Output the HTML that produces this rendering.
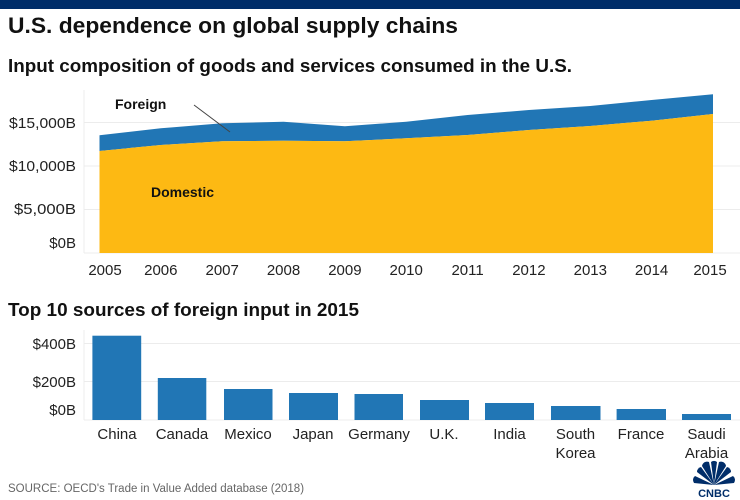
<!DOCTYPE html>
<html><head><meta charset="utf-8"><style>
html,body{margin:0;padding:0;background:#fff;}
svg{display:block;font-family:"Liberation Sans",sans-serif;}
</style></head><body>
<svg width="740" height="500" viewBox="0 0 740 500">
<rect x="0" y="0" width="740" height="9" fill="#002d69"/>
<text x="8" y="33" font-size="22" font-weight="bold" fill="#111" textLength="450" lengthAdjust="spacingAndGlyphs">U.S. dependence on global supply chains</text>
<text x="8" y="72" font-size="18" font-weight="bold" fill="#111" textLength="564" lengthAdjust="spacingAndGlyphs">Input composition of goods and services consumed in the U.S.</text>
<g stroke="#ececec" stroke-width="1">
<line x1="84" y1="122.5" x2="740" y2="122.5"/>
<line x1="84" y1="166" x2="740" y2="166"/>
<line x1="84" y1="209.5" x2="740" y2="209.5"/>
<line x1="84" y1="253" x2="740" y2="253"/>
<line x1="84" y1="90" x2="84" y2="253"/>
</g>
<g font-size="15" fill="#222" text-anchor="end">
<text x="76" y="128" textLength="67" lengthAdjust="spacingAndGlyphs">$15,000B</text>
<text x="76" y="171" textLength="67" lengthAdjust="spacingAndGlyphs">$10,000B</text>
<text x="76" y="214" textLength="62" lengthAdjust="spacingAndGlyphs">$5,000B</text>
<text x="76" y="248">$0B</text>
</g>
<polygon fill="#2176b5" points="99.5,135.3 160.8,128.3 222.2,123.3 283.5,121.7 344.9,126.3 406.2,121.7 467.6,115 528.9,110 590.3,106 651.6,100 713,94.3 713,114 651.6,120.7 590.3,126 528.9,130 467.6,135 406.2,138.3 344.9,141.3 283.5,140.7 222.2,141.3 160.8,145 99.5,151"/>
<polygon fill="#fdb913" points="99.5,151 160.8,145 222.2,141.3 283.5,140.7 344.9,141.3 406.2,138.3 467.6,135 528.9,130 590.3,126 651.6,120.7 713,114 713,253 99.5,253"/>
<line x1="194" y1="105" x2="230" y2="132" stroke="#444" stroke-width="1"/>
<text x="115" y="109" font-size="14" font-weight="bold" fill="#111">Foreign</text>
<text x="151" y="197" font-size="14" font-weight="bold" fill="#111">Domestic</text>
<g font-size="15" fill="#222" text-anchor="middle">
<text x="105" y="275">2005</text><text x="160.8" y="275">2006</text><text x="222.2" y="275">2007</text><text x="283.5" y="275">2008</text><text x="344.9" y="275">2009</text><text x="406.2" y="275">2010</text><text x="467.6" y="275">2011</text><text x="528.9" y="275">2012</text><text x="590.3" y="275">2013</text><text x="651.6" y="275">2014</text><text x="710" y="275">2015</text>
</g>
<text x="8" y="316" font-size="18" font-weight="bold" fill="#111" textLength="351" lengthAdjust="spacingAndGlyphs">Top 10 sources of foreign input in 2015</text>
<g stroke="#ececec" stroke-width="1">
<line x1="84" y1="343.5" x2="740" y2="343.5"/>
<line x1="84" y1="381.5" x2="740" y2="381.5"/>
<line x1="84" y1="420" x2="740" y2="420"/>
<line x1="84" y1="330" x2="84" y2="420"/>
</g>
<g font-size="15" fill="#222" text-anchor="end">
<text x="76" y="349">$400B</text>
<text x="76" y="387">$200B</text>
<text x="76" y="415">$0B</text>
</g>
<g fill="#2176b5">
<rect x="92.4" y="335.7" width="48.8" height="84.3"/>
<rect x="157.8" y="378" width="48.5" height="42"/>
<rect x="224" y="389" width="48.5" height="31"/>
<rect x="289" y="393" width="49" height="27"/>
<rect x="354.5" y="394" width="48.5" height="26"/>
<rect x="420" y="400" width="49" height="20"/>
<rect x="485" y="403" width="49" height="17"/>
<rect x="551" y="406" width="49.5" height="14"/>
<rect x="616.6" y="409" width="49.4" height="11"/>
<rect x="682" y="414" width="49" height="6"/>
</g>
<g font-size="15" fill="#222" text-anchor="middle">
<text x="117" y="439">China</text><text x="182" y="439">Canada</text><text x="248" y="439">Mexico</text><text x="313" y="439">Japan</text><text x="379" y="439">Germany</text><text x="444" y="439">U.K.</text><text x="509.5" y="439">India</text><text x="575.5" y="439">South</text><text x="575.5" y="458">Korea</text><text x="641" y="439">France</text><text x="706.5" y="439">Saudi</text><text x="706.5" y="458">Arabia</text>
</g>
<text x="8" y="492" font-size="11.5" fill="#666">SOURCE: OECD's Trade in Value Added database (2018)</text>
<g transform="translate(714,485)" fill="#002d69">
<path d="M0,0 L-17,-13 A5,5 0 0 1 -13,-18 Z"/>
<path d="M0,0 L-12,-19 A5,5 0 0 1 -5,-23 Z"/>
<path d="M0,0 L-3,-23 A5,5 0 0 1 3,-23 Z"/>
<path d="M0,0 L5,-23 A5,5 0 0 1 12,-19 Z"/>
<path d="M0,0 L13,-18 A5,5 0 0 1 17,-13 Z"/>
<path d="M0,0 L19,-9 A5,5 0 0 1 20,-2 Z"/>
<path d="M0,0 L-20,-2 A5,5 0 0 1 -19,-9 Z"/>
<text x="0" y="12" font-size="11" font-weight="bold" text-anchor="middle" fill="#002d69">CNBC</text>
</g>
</svg>
</body></html>
